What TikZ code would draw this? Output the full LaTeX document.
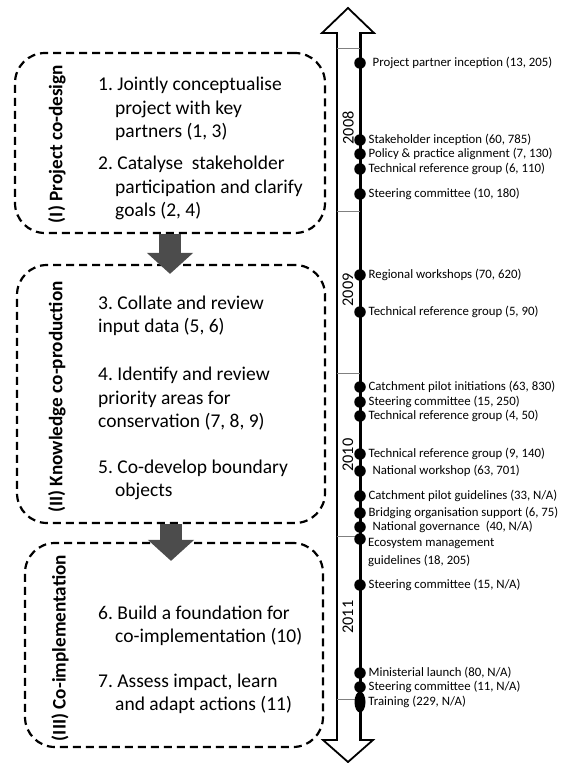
\documentclass[tikz,border=0pt]{standalone}
\usepackage{fontspec}
\setmainfont{Carlito}
\usetikzlibrary{positioning,arrows.meta,shapes.geometric}
\frenchspacing

\tikzset{
    phase/.style={draw, line width=2.2pt, dash pattern=on 8pt off 5pt, rounded corners=30pt, inner sep=0pt},
    phasetitle/.style={rotate=90, font=\fontsize{19.2}{23}\selectfont\bfseries, inner sep=0pt},
    item/.style={anchor=west, align=left, inner sep=0pt, font=\fontsize{19.5}{23.5}\selectfont},
    bigarrow/.style={draw=arrowgray, line width=22pt, -{Triangle[width=45pt, length=21pt]}},
    year/.style={rotate=90, font=\fontsize{16.3}{18}\selectfont, inner sep=0pt},
    evdot/.style={circle, fill=black, minimum size=11.5pt, inner sep=0pt},
    evtext/.style={inner sep=0pt, align=left, font=\fontsize{12.8}{18}\selectfont}
}
\colorlet{arrowgray}{black!70}

\begin{document}
\begin{tikzpicture}[x=1pt, y=-1pt]
    \useasboundingbox (0,0) rectangle (565,763);

    % Draw phase boxes
    \node[phase, minimum width=310pt, minimum height=180pt] (p1) at (170,143) {};
    \node[phase, minimum width=308pt, minimum height=258pt] (p2) at (171,394) {};
    \node[phase, minimum width=298pt, minimum height=204pt] (p3) at (174,645) {};

    % Phase titles
    \node[phasetitle] (n1) at (57,144) {(I) Project co-design};
    \node[phasetitle] (n2) at (57,397) {(II) Knowledge co-production};
    \node[phasetitle] (n3) at (60,648) {(III) Co-implementation};

    % Steps of each phase
    \node[item] (s1) at (98,109) {1. Jointly conceptualise\\\hspace*{17pt}project with key\\\hspace*{17pt}partners (1, 3)};
    \node[item] (s2) at (98,188) {2. Catalyse\ \ stakeholder\\\hspace*{17pt}participation and clarify\\\hspace*{17pt}goals (2, 4)};
    \node[item] (s3) at (98,316) {3. Collate and review\\input data (5, 6)};
    \node[item] (s4) at (98,399) {4. Identify and review\\priority areas for\\conservation (7, 8, 9)};
    \node[item] (s5) at (98,480) {5. Co-develop boundary\\\hspace*{17pt}objects};
    \node[item] (s6) at (98,626) {6. Build a foundation for\\\hspace*{17pt}co-implementation (10)};
    \node[item] (s7) at (98,694) {7. Assess impact, learn\\\hspace*{17pt}and adapt actions (11)};

    % Arrows between phases
    \draw[bigarrow] (p1.south) -- ([yshift=-10pt]p1.south |- p2.north);
    \draw[bigarrow] (p2.south) -- ([yshift=-19pt]p2.south |- p3.north);

    % Draw double arrow of the timeline
    \draw[line width=1.8pt, line join=miter, fill=white]
        (337,740) -- (337,33) -- (322,33) -- (348,8) -- (374,33) -- (360,33)
        -- (360,740) -- (373,740) -- (348,762) -- (323,740) -- cycle;
    \draw[line width=3pt] (360,33) -- (360,740);

    % Year dividers
    \draw[gray] (337,48) -- (360,48);
    \draw[gray] (337,211) -- (360,211);
    \draw[gray] (337,373) -- (360,373);
    \draw[gray] (337,536) -- (360,536);
    \draw[gray] (337,699) -- (360,699);

    % Years
    \node[year] (y1) at (348,128) {2008};
    \node[year] (y2) at (348,290) {2009};
    \node[year] (y3) at (348,455) {2010};
    \node[year] (y4) at (348,617) {2011};

    % Events on the timeline
    \node[evdot] (d1) at (360,63) {};
    \node[evtext, right=6.5pt of d1] (t1) {Project partner inception (13, 205)};
    \node[evdot] (d2) at (360,140) {};
    \node[evtext, right=2.5pt of d2] (t2) {Stakeholder inception (60, 785)};
    \node[evdot] (d3) at (360,154) {};
    \node[evtext, right=2.5pt of d3] (t3) {Policy \& practice alignment (7, 130)};
    \node[evdot] (d4) at (360,169) {};
    \node[evtext, right=2.5pt of d4] (t4) {Technical reference group (6, 110)};
    \node[evdot] (d5) at (360,194) {};
    \node[evtext, right=2.5pt of d5] (t5) {Steering committee (10, 180)};
    \node[evdot] (d6) at (360,275) {};
    \node[evtext, right=2.5pt of d6] (t6) {Regional workshops (70, 620)};
    \node[evdot] (d7) at (360,312) {};
    \node[evtext, right=2.5pt of d7] (t7) {Technical reference group (5, 90)};
    \node[evdot] (d8) at (360,387) {};
    \node[evtext, right=2.5pt of d8] (t8) {Catchment pilot initiations (63, 830)};
    \node[evdot] (d9) at (360,402) {};
    \node[evtext, right=2.5pt of d9] (t9) {Steering committee (15, 250)};
    \node[evdot] (d10) at (360,416) {};
    \node[evtext, right=2.5pt of d10] (t10) {Technical reference group (4, 50)};
    \node[evdot] (d11) at (360,454) {};
    \node[evtext, right=2.5pt of d11] (t11) {Technical reference group (9, 140)};
    \node[evdot] (d12) at (360,471) {};
    \node[evtext, right=6.5pt of d12] (t12) {National workshop (63, 701)};
    \node[evdot] (d13) at (360,496) {};
    \node[evtext, right=2.5pt of d13] (t13) {Catchment pilot guidelines (33, N/A)};
    \node[evdot] (d14) at (360,513) {};
    \node[evtext, right=2.5pt of d14] (t14) {Bridging organisation support (6, 75)};
    \node[evdot] (d15) at (360,527) {};
    \node[evtext, right=6.5pt of d15] (t15) {National governance\ \ (40, N/A)};
    \node[evdot] (d16) at (360,539) {};
    \node[evtext, anchor=north west] (t16) at (368,538) {Ecosystem management\\guidelines (18, 205)};
    \node[evdot] (d17) at (360,585) {};
    \node[evtext, right=2.5pt of d17] (t17) {Steering committee (15, N/A)};
    \node[evdot] (d18) at (360,673) {};
    \node[evtext, right=2.5pt of d18] (t18) {Ministerial launch (80, N/A)};
    \node[evdot] (d19) at (360,687) {};
    \node[evtext, right=2.5pt of d19] (t19) {Steering committee (11, N/A)};
    \node[evdot, ellipse, minimum width=11pt, minimum height=21pt] (d20) at (360,702) {};
    \node[evtext, right=2.5pt of d20] (t20) {Training (229, N/A)};
\end{tikzpicture}
\end{document}
